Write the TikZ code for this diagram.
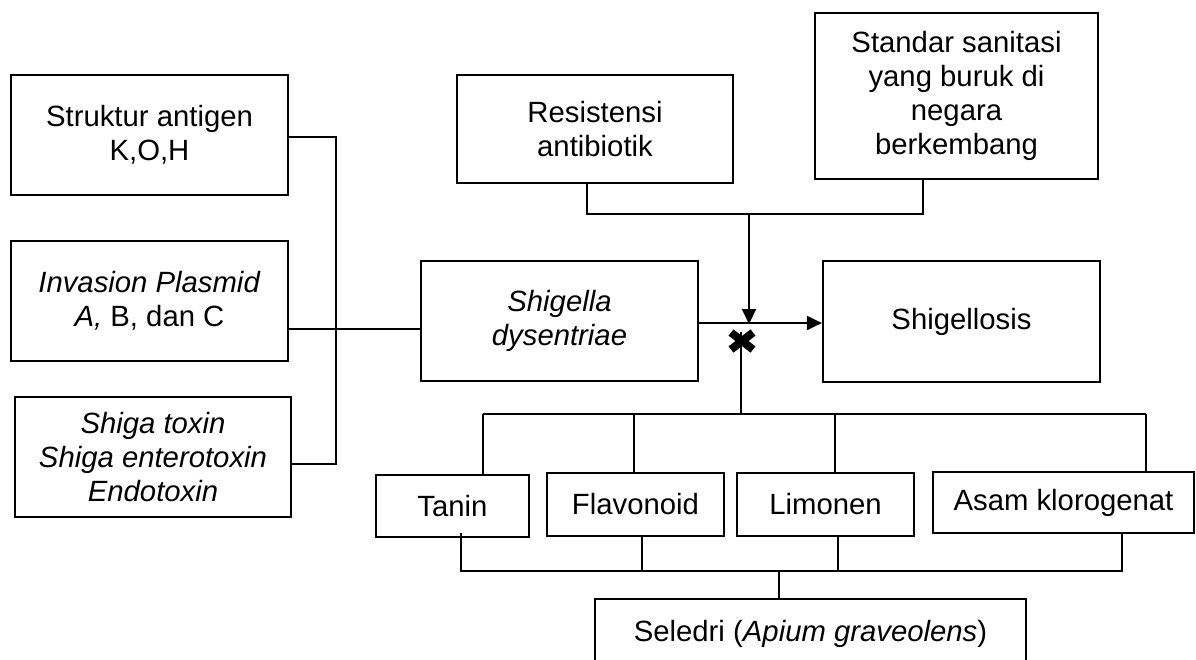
\documentclass[tikz,border=0pt]{standalone}
\usepackage{fontspec}
\setmainfont{Liberation Sans}
\usetikzlibrary{arrows.meta}
\begin{document}
\begin{tikzpicture}[x=1pt,y=-1pt,
  box/.style={draw, line width=2.2pt, inner sep=0pt, align=center,
    font=\fontsize{29.3}{34}\selectfont},
  con/.style={line width=1.2pt},
  arr/.style={line width=2pt, -{Triangle[length=15pt,width=14pt]}},
  xmark/.style={line width=8pt}]
\clip (0,0) rectangle (1196,659);
\fill[white] (0,0) rectangle (1196,659);

% left column
\node[box, minimum width=277pt, minimum height=120pt] (ant) at (149.5,135) {Struktur antigen\\K,O,H};
\node[box, minimum width=277pt, minimum height=120pt] (inv) at (149.5,301) {\textit{Invasion Plasmid}\\\textit{A,} B, dan C};
\node[box, minimum width=276pt, minimum height=120pt] (shg) at (153,457) {\textit{Shiga toxin}\\\textit{Shiga enterotoxin}\\\textit{Endotoxin}};

% top
\node[box, minimum width=276pt, minimum height=108pt] (res) at (595,129) {Resistensi\\antibiotik};
\node[box, minimum width=283pt, minimum height=166pt] (std) at (956.5,96) {Standar sanitasi\\yang buruk di\\negara\\berkembang};

% middle
\node[box, minimum width=277pt, minimum height=120pt] (shd) at (559.5,321) {\textit{Shigella}\\\textit{dysentriae}};
\node[box, minimum width=277pt, minimum height=121pt] (sgl) at (961.5,321.5) {Shigellosis};

% compounds
\node[box, minimum width=153pt, minimum height=62pt] (tan) at (452.5,506) {Tanin};
\node[box, minimum width=177pt, minimum height=63pt] (fla) at (635.5,504.5) {Flavonoid};
\node[box, minimum width=177pt, minimum height=63pt] (lim) at (825.5,504.5) {Limonen};
\node[box, minimum width=261pt, minimum height=61pt] (asa) at (1063.5,502.5) {Asam klorogenat};
\node[box, minimum width=431pt, minimum height=70pt] (sel) at (810.5,634) {Seledri (\textit{Apium graveolens})};

% coordinates
\coordinate (lb1) at (336,137);
\coordinate (lb2) at (336,464);
\coordinate (lin) at (336,329);
\coordinate (rb) at (587,214);
\coordinate (sb) at (923,214);
\coordinate (ta) at (749,214);
\coordinate (ha) at (749,323);
\coordinate (xm) at (742,341);
\coordinate (xd) at (741,414);
\coordinate (tb1) at (483,414);
\coordinate (tb2) at (634,414);
\coordinate (tb3) at (835,414);
\coordinate (tb4) at (1146,414);
\coordinate (bb1) at (461,571);
\coordinate (bb2) at (642,571);
\coordinate (bb3) at (838,571);
\coordinate (bb4) at (1122,571);
\coordinate (bs) at (779,571);

% left connectors
\draw[con] (ant.east |- lb1) -- (lb1) -- (lb2) -- (shg.east |- lb2);
\draw[con] (inv.east |- lin) -- (shd.west |- lin);

% top connectors
\draw[con] (res.south -| rb) -- (rb) -- (sb) -- (std.south -| sb);
\draw[arr] (ta) -- ([yshift=-1pt]ha);
\draw[arr] (shd.east |- ha) -- (sgl.west |- ha);

% X mark
\draw[xmark] (xm) ++(-11,-8.5) -- ++(22,17);
\draw[xmark] (xm) ++(-11,8.5) -- ++(22,-17);

% lower connectors
\draw[con] ([yshift=9pt]xm -| xd) -- (xd);
\draw[con] (tb1) -- (tb4);
\draw[con] (tb1) -- (tan.north -| tb1);
\draw[con] (tb2) -- (fla.north -| tb2);
\draw[con] (tb3) -- (lim.north -| tb3);
\draw[con] (tb4) -- (asa.north -| tb4);

\draw[con] ([yshift=5pt]tan.south -| bb1) -- (bb1) -- (bb4) -- (asa.south -| bb4);
\draw[con] (fla.south -| bb2) -- (bb2);
\draw[con] (lim.south -| bb3) -- (bb3);
\draw[con] (bs) -- (sel.north -| bs);
\end{tikzpicture}
\end{document}
